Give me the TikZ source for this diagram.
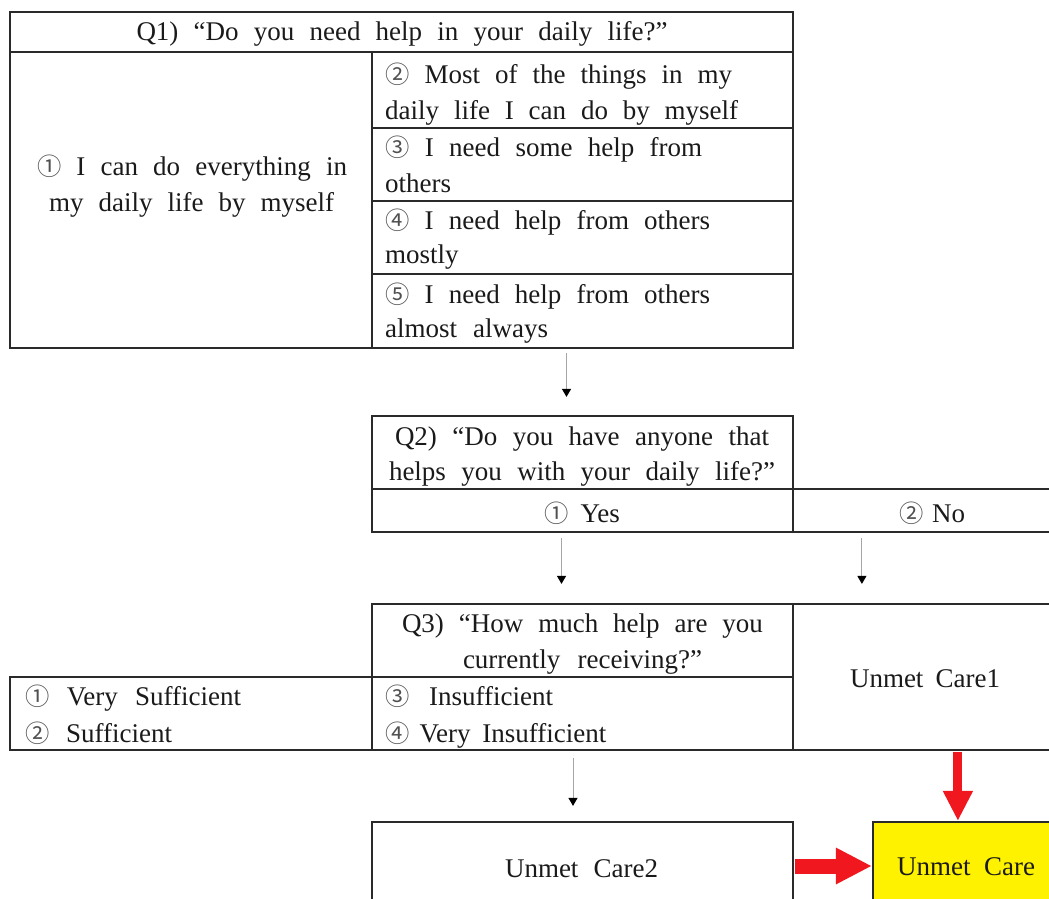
\documentclass[tikz,border=0pt]{standalone}
\usepackage{fontspec}
\setmainfont{Liberation Serif}
\newfontfamily\cnumfont[Scale=0.9]{Noto Sans CJK SC}
\usetikzlibrary{arrows.meta,fit}
\definecolor{linec}{HTML}{2A2A2A}
\definecolor{txtc}{HTML}{1A1A1A}
\definecolor{numc}{HTML}{505050}
\definecolor{arrred}{RGB}{240,24,30}
\newcommand{\cnum}[1]{{\cnumfont\color{numc}#1}}
\newcommand{\spreadline}[2]{\makebox[#1pt][s]{#2}}
\begin{document}
\begin{tikzpicture}[x=1pt,y=-1pt,
  cell/.style={draw=linec, line width=2.2pt, inner sep=0pt},
  lt/.style={inner sep=0pt, anchor=base west, text=txtc, font=\fontsize{27}{33}\selectfont},
  ct/.style={inner sep=0pt, anchor=base, text=txtc, font=\fontsize{27}{33}\selectfont},
  thin/.style={draw=gray!70, line width=1pt, -{Triangle[width=9pt,length=8pt,color=black]}},
  bigred/.style={draw=arrred, color=arrred}
]
\useasboundingbox (0,0) rectangle (1049,899);
\clip (0,0) rectangle (1049,899);

% Q1 table
\node[cell, fit={(10,12) (793,52)}] (q1h) {};
\node[cell, fit={(10,52) (372,348)}] (q1a) {};
\node[cell, fit={(372,52) (793,128)}] (q1b) {};
\node[cell, fit={(372,128) (793,201)}] (q1c) {};
\node[cell, fit={(372,201) (793,274)}] (q1d) {};
\node[cell, fit={(372,274) (793,348)}] (q1e) {};

% Q2 table
\node[cell, fit={(372,416) (793,489)}] (q2q) {};
\node[cell, fit={(372,489) (793,532)}] (q2y) {};
\node[cell, fit={(793,489) (1060,532)}] (q2n) {};

% Q3 table
\node[cell, fit={(372,604) (793,677)}] (q3q) {};
\node[cell, fit={(10,677) (372,750)}] (q3l) {};
\node[cell, fit={(372,677) (793,750)}] (q3r) {};
\node[cell, fit={(793,604) (1060,750)}] (uc1) {};

% outcome boxes
\node[cell, fit={(372,822) (793,910)}] (uc2) {};
\node[cell, fill=yellow, fit={(873,822) (1060,910)}] (uc) {};

% thin arrows
\draw[thin] ([xshift=-16pt,yshift=-4pt]q1e.south) -- ([xshift=-16pt,yshift=18pt]q2q.north);
\draw[thin] ([xshift=-21pt,yshift=-5pt]q2y.south) -- ([xshift=-21pt,yshift=19pt]q3q.north);
\draw[thin] ([xshift=70pt,yshift=-5pt]q2n.south west) -- ([xshift=70pt,yshift=19pt]uc1.north west);
\draw[thin] ([xshift=-9.5pt,yshift=-7pt]q3r.south) -- ([xshift=-9.5pt,yshift=15pt]uc2.north);

% red arrows
\draw[bigred, line width=9pt, -{Triangle[width=28pt,length=30pt]}] ([xshift=166pt,yshift=-1pt]uc1.south west) -- ([xshift=86pt]uc.north west);
\draw[bigred, line width=15pt, -{Triangle[width=34pt,length=36pt]}] ([xshift=1pt]uc2.east) -- (uc.west);

% Q1 texts
\node[ct] (t1) at (402,41) {\spreadline{531}{Q1) “Do you need help in your daily life?”}};
\node[ct] (t2) at (192,175) {\spreadline{310}{\cnum{①} I can do everything in}};
\node[ct] (t3) at (191.5,211) {\spreadline{285}{my daily life by myself}};
\node[lt] (t4) at (385,83) {\spreadline{347}{\cnum{②} Most of the things in my}};
\node[lt] (t5) at (385,119) {\spreadline{353}{daily life I can do by myself}};
\node[lt] (t6) at (385,156) {\spreadline{317}{\cnum{③} I need some help from}};
\node[lt] (t7) at (385,192) {others};
\node[lt] (t8) at (385,229) {\spreadline{325}{\cnum{④} I need help from others}};
\node[lt] (t9) at (385,263) {mostly};
\node[lt] (t10) at (385,303) {\spreadline{325}{\cnum{⑤} I need help from others}};
\node[lt] (t11) at (385,337) {\spreadline{163}{almost always}};

% Q2 texts
\node[ct] (t12) at (582,445) {\spreadline{374}{Q2) “Do you have anyone that}};
\node[ct] (t13) at (582,480) {\spreadline{386}{helps you with your daily life?”}};
\node[ct] (t14) at (582,522) {\cnum{①}\hspace{12pt}Yes};
\node[ct] (t15) at (932.5,522) {\cnum{②}\hspace{8pt}No};

% Q3 texts
\node[ct] (t16) at (582.5,632) {\spreadline{361}{Q3) “How much help are you}};
\node[ct] (t17) at (582.5,668) {\spreadline{239}{currently receiving?”}};
\node[lt] (t18) at (25,705) {\spreadline{216}{\cnum{①} Very Sufficient}};
\node[lt] (t19) at (25,742) {\spreadline{147}{\cnum{②} Sufficient}};
\node[lt] (t20) at (385,705) {\spreadline{168}{\cnum{③} Insufficient}};
\node[lt] (t21) at (385,742) {\cnum{④}\hspace{10pt}Very\hspace{12pt}Insufficient};
\node[ct] (t22) at (925,687) {\spreadline{150}{Unmet Care1}};
\node[ct] (t23) at (581.5,877) {\spreadline{153}{Unmet Care2}};
\node[ct] (t24) at (966,875) {\spreadline{138}{Unmet Care}};
\end{tikzpicture}
\end{document}
